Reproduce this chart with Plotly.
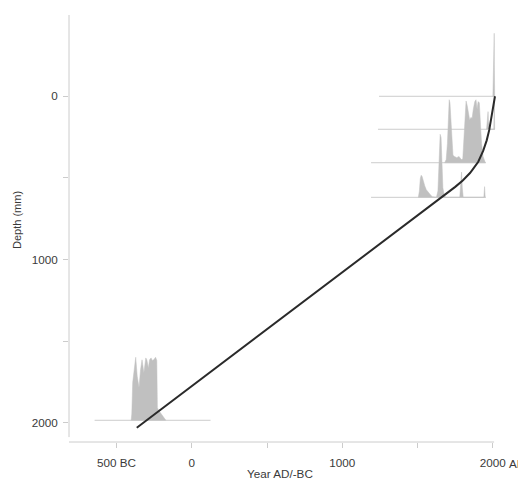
import plotly.graph_objects as go

# ---- age-depth model (mean curve) ----
curve_year = [-365, 0, 500, 1000, 1400, 1600, 1650, 1700, 1750, 1800, 1826, 1848, 1870,
              1903, 1936, 1959, 1976, 1992, 2003, 2014]
curve_depth = [2031, 1777, 1429, 1081, 802, 663, 628, 592, 555, 516, 492, 470, 443,
               401, 333, 270, 206, 128, 64, 0]

# ---- dated levels: depth of baseline, baseline extent (years) ----
date_depth = [0, 202, 407, 619, 1985]
base_from = [1244, 1237, 1191, 1191, -645]
base_to = [2014, 2014, 1954, 1954, 125]

# ---- calibrated probability distributions (year, relative height) ----
d0_year = [2000, 2003, 2006, 2008, 2009, 2010, 2011, 2012]
d0_prob = [0, 0.3, 0.5, 0.6, 1.0, 0.5, 0.2, 0]

d1_year = [1958, 1963, 1966, 1968, 1971, 1975, 1980, 2006, 2008, 2010, 2012]
d1_prob = [0, 0.12, 0.24, 0.28, 0.12, 0.03, 0, 0, 0.52, 0.52, 0]

d2_year = [1680, 1690, 1698, 1705, 1710, 1715, 1722, 1728, 1735, 1745, 1760, 1775, 1790,
           1800, 1808, 1815, 1822, 1830, 1838, 1846, 1855, 1862, 1870, 1880, 1888, 1895,
           1902, 1910, 1918, 1925, 1935, 1945, 1950]
d2_prob = [0, 0.05, 0.3, 0.8, 1.0, 0.95, 0.6, 0.25, 0.12, 0.1, 0.08, 0.1, 0.05,
           0.06, 0.4, 0.85, 0.98, 0.9, 0.75, 0.68, 0.72, 0.7, 0.85, 0.97, 1.0, 0.85,
           0.97, 0.95, 0.6, 0.3, 0.1, 0.03, 0]

d3_year = [1505, 1512, 1518, 1524, 1530, 1538, 1548, 1558, 1570, 1585, 1598, 1612,
           1625, 1635, 1643, 1650, 1656, 1662, 1668, 1678, 1690,
           1780, 1786, 1792, 1797, 1803, 1940, 1945, 1949]
d3_prob = [0, 0.1, 0.3, 0.35, 0.33, 0.25, 0.18, 0.12, 0.08, 0.04, 0.01, 0,
           0, 0.1, 0.6, 1.0, 0.95, 0.5, 0.15, 0.02, 0,
           0, 0.15, 0.4, 0.15, 0, 0, 0.17, 0]

d4_year = [-402, -398, -392, -378, -372, -362, -350, -340, -330, -325, -318, -305, -298,
           -288, -280, -270, -262, -252, -240, -232, -228, -220, -208, -195, -182, -172]
d4_prob = [0, 0.1, 0.6, 0.97, 1.0, 0.7, 0.52, 0.8, 0.96, 0.88, 0.75, 0.99, 0.96,
           0.83, 0.96, 0.99, 0.95, 0.96, 1.0, 0.95, 0.2, 0.16, 0.12, 0.07, 0.03, 0]

dist_years = [d0_year, d1_year, d2_year, d3_year, d4_year]
dist_probs = [d0_prob, d1_prob, d2_prob, d3_prob, d4_prob]

# axis ticks
x_tickvals = [-500, 0, 500, 1000, 1500, 2000]
x_ticktext = ["500 BC", "0", "", "1000", "", "2000"]
y_tickvals = [0, 500, 1000, 1500, 2000]
y_ticktext = ["0", "", "1000", "", "2000"]

PEAK = 386  # drawn height of a distribution peak, in depth units
FILL = "#c0c0c0"
AX = "#cccccc"
TXT = "#3a3a3a"
FONT = "Liberation Sans"
FS = 11.7

fig = go.Figure()

for dep, b0, b1 in zip(date_depth, base_from, base_to):
    fig.add_trace(go.Scatter(x=[b0, b1], y=[dep, dep], mode="lines",
                             line=dict(color=AX, width=1), hoverinfo="skip"))

for dep, yrs, prs in zip(date_depth, dist_years, dist_probs):
    px = list(yrs) + [yrs[-1], yrs[0]]
    py = [dep - p * PEAK for p in prs] + [dep, dep]
    fig.add_trace(go.Scatter(x=px, y=py, mode="lines", fill="toself",
                             fillcolor=FILL, line=dict(color=FILL, width=0.5),
                             hoverinfo="skip"))

fig.add_trace(go.Scatter(x=curve_year, y=curve_depth, mode="lines",
                         line=dict(color="#2a2a2a", width=2)))

fig.update_layout(
    width=518, height=472,
    margin=dict(l=61, r=0, t=7, b=38),
    paper_bgcolor="white", plot_bgcolor="white",
    showlegend=False,
    font=dict(family=FONT, size=FS, color=TXT),
    xaxis=dict(range=[-815, 2220], showgrid=False, zeroline=False, showline=False,
               tickmode="array", tickvals=x_tickvals, ticktext=x_ticktext,
               ticks="outside", ticklen=5, tickcolor=AX, tickwidth=1,
               ticklabelstandoff=5,
               tickfont=dict(family=FONT, size=FS, color=TXT)),
    yaxis=dict(range=[2118, -498], showgrid=False, zeroline=False, showline=False,
               tickmode="array", tickvals=y_tickvals, ticktext=y_ticktext,
               ticks="outside", ticklen=5, tickcolor=AX, tickwidth=1,
               ticklabelstandoff=3,
               tickfont=dict(family=FONT, size=FS, color=TXT)),
    shapes=[
        dict(type="line", xref="paper", yref="y", x0=0, x1=0, y0=-500, y1=2088,
             line=dict(color=AX, width=1)),
        dict(type="line", xref="x", yref="paper", x0=-815, x1=2008, y0=0, y1=0,
             line=dict(color=AX, width=1)),
    ],
    annotations=[
        dict(text="Year AD/-BC", xref="paper", yref="paper", x=0.4617, y=0,
             yshift=-31, showarrow=False, xanchor="center", yanchor="middle",
             font=dict(family=FONT, size=FS, color=TXT)),
        dict(text="Depth (mm)", xref="paper", yref="paper", x=0, y=0.52,
             xshift=-52, textangle=-90, showarrow=False, xanchor="center",
             yanchor="middle", font=dict(family=FONT, size=11, color=TXT)),
        dict(text="AD", xref="paper", yref="paper", x=1.0, y=0, yshift=-21,
             showarrow=False, xanchor="right", yanchor="middle", borderpad=0,
             font=dict(family=FONT, size=FS, color=TXT)),
    ],
)

fig.write_html("out.html")
